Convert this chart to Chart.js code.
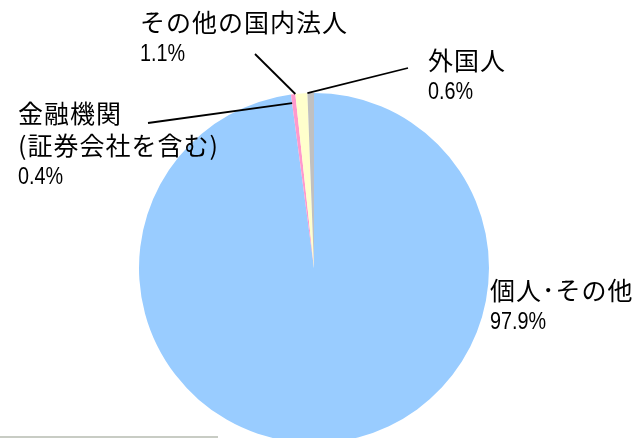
<!DOCTYPE html>
<html lang="ja">
<head>
<meta charset="utf-8">
<script src="https://cdn.jsdelivr.net/npm/chart.js@4"></script>
<style>
  html, body { margin: 0; padding: 0; background: #fff; overflow: hidden; }
  #wrap { width: 637px; height: 438px; overflow: hidden; position: relative; }
  canvas { display: block; }
</style>
</head>
<body>
<div id="wrap"><canvas id="c" width="637" height="450"></canvas></div>
<script>
// Shareholder distribution by owner type
const categories = ['個人･その他', '金融機関', 'その他の国内法人', '外国人'];
const nameLines = [['個人･その他'], ['金融機関', '(証券会社を含む)'], ['その他の国内法人'], ['外国人']];
const shares = [97.9, 0.4, 1.1, 0.6];
const sliceColors = ['#99CCFF', '#FF99CC', '#FFFFCC', '#C0C0C0'];

// Where each label sits, and where its leader line ends
const labelLayout = [
  { x: 490, y: 290, leader: null },
  { x: 18,  y: 113, leader: { x: 148, y: 123, r: 0.95 } },
  { x: 140, y: 22.5, leader: { x: 255, y: 54, r: 1.0 } },
  { x: 428, y: 60,  leader: { x: 408, y: 68, r: 1.0 } }
];

const JP_FONT = '400 25px "Noto Sans CJK JP", "Noto Sans", sans-serif';
const NUM_FONT = '23px "Liberation Sans", Arial, sans-serif';
const NUM_SQUEEZE = 0.86;
const LINE_GAP = 32.5;

const sliceLabels = {
  id: 'sliceLabels',
  afterDraw(chart) {
    const ctx = chart.ctx;
    const meta = chart.getDatasetMeta(0);
    ctx.save();
    // faint frame line along the lower left
    ctx.fillStyle = '#C8CCC4';
    ctx.fillRect(0, 436, 218, 2);

    meta.data.forEach((arc, i) => {
      const L = labelLayout[i];
      const p = arc.getProps(['x', 'y', 'startAngle', 'outerRadius'], true);
      if (L.leader) {
        const rr = p.outerRadius * L.leader.r;
        ctx.beginPath();
        ctx.strokeStyle = '#000';
        ctx.lineWidth = 1.8;
        ctx.moveTo(p.x + rr * Math.cos(p.startAngle), p.y + rr * Math.sin(p.startAngle));
        ctx.lineTo(L.leader.x, L.leader.y);
        ctx.stroke();
      }
      ctx.fillStyle = '#000';
      ctx.textAlign = 'left';
      ctx.textBaseline = 'middle';
      let y = L.y;
      ctx.font = JP_FONT;
      if ('letterSpacing' in ctx) ctx.letterSpacing = '1px';
      nameLines[i].forEach(line => {
        ctx.fillText(line, L.x, y);
        y += LINE_GAP;
      });
      ctx.font = NUM_FONT;
      if ('letterSpacing' in ctx) ctx.letterSpacing = '0px';
      ctx.save();
      ctx.translate(L.x, y);
      ctx.scale(NUM_SQUEEZE, 1);
      ctx.fillText(shares[i].toFixed(1) + '%', 0, 0);
      ctx.restore();
    });
    ctx.restore();
  }
};

new Chart(document.getElementById('c'), {
  type: 'pie',
  data: {
    labels: categories,
    datasets: [{
      data: shares,
      backgroundColor: sliceColors,
      borderWidth: 0
    }]
  },
  options: {
    responsive: false,
    animation: false,
    layout: { padding: { left: 139, right: 148, top: 93, bottom: 7 } },
    plugins: {
      legend: { display: false },
      tooltip: { enabled: false }
    }
  },
  plugins: [sliceLabels]
});
</script>
</body>
</html>
